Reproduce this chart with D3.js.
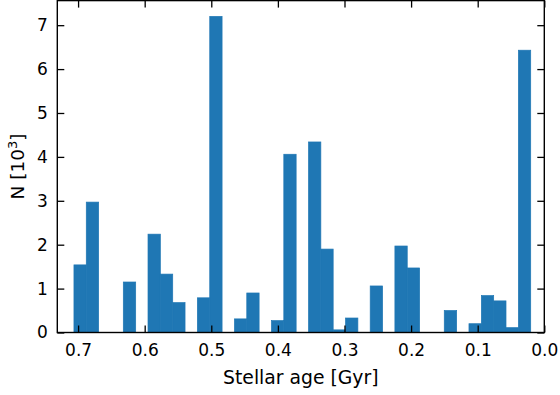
<!DOCTYPE html>
<html>
<head>
<meta charset="utf-8">
<script src="https://cdn.jsdelivr.net/npm/d3@7"></script>
<style>
  html, body { margin: 0; padding: 0; background: #fff; }
  svg { display: block; }
  text { font-family: "DejaVu Sans", sans-serif; fill: #000; }
</style>
</head>
<body>
<svg id="chart" width="560" height="395"></svg>
<script>
// Histogram bin edges (stellar age, Gyr), oldest first
const binEdges = [
  0.7062, 0.6877, 0.6691, 0.6506, 0.6321, 0.6135, 0.5950, 0.5765, 0.5579, 0.5394,
  0.5209, 0.5023, 0.4838, 0.4652, 0.4467, 0.4282, 0.4096, 0.3911, 0.3726, 0.3540,
  0.3355, 0.3170, 0.2984, 0.2799, 0.2614, 0.2428, 0.2243, 0.2058, 0.1872, 0.1687,
  0.1502, 0.1316, 0.1131, 0.0945, 0.0760, 0.0575, 0.0389, 0.0204
];
// Star counts per bin, in units of 10^3
const counts = [
  1.54, 2.97, 0, 0, 1.15, 0, 2.24, 1.33, 0.68, 0,
  0.79, 7.20, 0, 0.31, 0.90, 0, 0.27, 4.06, 0, 4.34,
  1.90, 0.06, 0.33, 0, 1.06, 0, 1.97, 1.47, 0, 0,
  0.50, 0, 0.20, 0.84, 0.72, 0.11, 6.43
];
const xTicks = [0.7, 0.6, 0.5, 0.4, 0.3, 0.2, 0.1, 0.0];
const yTicks = [0, 1, 2, 3, 4, 5, 6, 7];
const xLimits = [0.7312, 0.0];

const bins = counts.map((c, i) => ({ old: binEdges[i], young: binEdges[i + 1], n: c }));

const plot = { left: 57.3, right: 544.3, top: 0.6, bottom: 332.5 };
const svg = d3.select("#chart");

const x = d3.scaleLinear().domain(xLimits).range([plot.left, plot.right]);
const y = d3.scaleLinear().domain([0, d3.max(counts) * 1.05]).range([plot.bottom, plot.top]);

// Bars (thin same-colour stroke closes anti-aliasing seams between neighbours)
svg.append("g")
  .selectAll("rect")
  .data(bins.filter(d => d.n > 0))
  .join("rect")
  .attr("x", d => x(d.old))
  .attr("width", d => x(d.young) - x(d.old))
  .attr("y", d => y(d.n))
  .attr("height", d => y(0) - y(d.n))
  .attr("fill", "#1f77b4")
  .attr("stroke", "#1f77b4")
  .attr("stroke-width", 0.7);

const tickLen = 7;
const fmtX = d3.format(".1f");

// Axes with inward ticks on all four sides
const axisBottom = d3.axisBottom(x).tickValues(xTicks).tickSize(-tickLen).tickPadding(tickLen + 4).tickFormat(fmtX);
const axisTop = d3.axisTop(x).tickValues(xTicks).tickSize(-tickLen).tickFormat("");
const axisLeft = d3.axisLeft(y).tickValues(yTicks).tickSize(-tickLen).tickPadding(tickLen + 2.5).tickFormat(d3.format("d"));
const axisRight = d3.axisRight(y).tickValues(yTicks).tickSize(-tickLen).tickFormat("");

function styleAxis(g) {
  g.select(".domain").remove();
  g.selectAll(".tick line").attr("stroke", "#000").attr("stroke-width", 1.3);
  g.selectAll(".tick text").attr("font-family", "DejaVu Sans").attr("font-size", 17).attr("fill", "#000");
}

svg.append("g").attr("transform", `translate(0,${plot.bottom})`).call(axisBottom).call(styleAxis);
svg.append("g").attr("transform", `translate(0,${plot.top})`).call(axisTop).call(styleAxis);
svg.append("g").attr("transform", `translate(${plot.left},0)`).call(axisLeft).call(styleAxis);
svg.append("g").attr("transform", `translate(${plot.right},0)`).call(axisRight).call(styleAxis);

// Frame
svg.append("rect")
  .attr("x", plot.left).attr("y", plot.top)
  .attr("width", plot.right - plot.left).attr("height", plot.bottom - plot.top)
  .attr("fill", "none").attr("stroke", "#000").attr("stroke-width", 1.4);

// Axis labels
svg.append("text")
  .attr("x", (plot.left + plot.right) / 2)
  .attr("y", 383.5)
  .attr("text-anchor", "middle")
  .attr("font-size", 18.8)
  .text("Stellar age [Gyr]");

const yl = svg.append("text")
  .attr("transform", `translate(23.5,${(plot.top + plot.bottom) / 2}) rotate(-90)`)
  .attr("text-anchor", "middle")
  .attr("font-size", 18.5);
yl.append("tspan").text("N [10");
yl.append("tspan").attr("baseline-shift", "super").attr("font-size", 13).text("3");
yl.append("tspan").text("]");
</script>
</body>
</html>
